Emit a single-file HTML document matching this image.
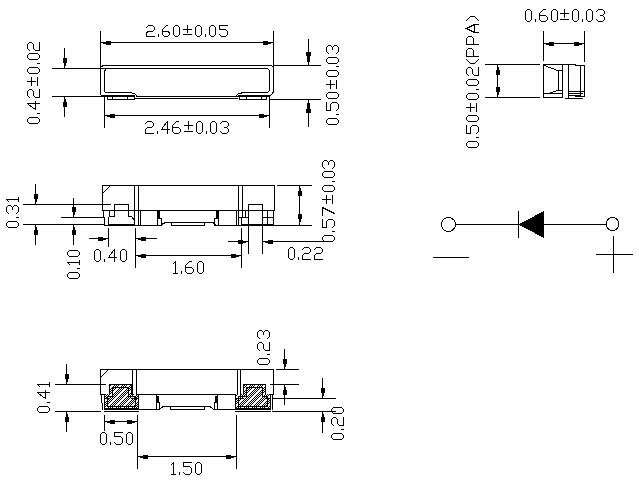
<!DOCTYPE html><html><head><meta charset="utf-8"><style>html,body{margin:0;padding:0;background:#fff;font-family:"Liberation Sans",sans-serif;width:639px;height:487px;overflow:hidden}svg{display:block}</style></head><body><svg width="639" height="487" viewBox="0 0 639 487" shape-rendering="crispEdges"><defs><pattern id="ht" width="8" height="8" patternUnits="userSpaceOnUse"><rect width="8" height="8" fill="#fff"/><path d="M3,0h1v1h-1zM5,0h1v1h-1zM7,0h1v1h-1zM2,1h1v1h-1zM4,1h1v1h-1zM6,1h1v1h-1zM1,2h1v1h-1zM3,2h1v1h-1zM5,2h1v1h-1zM0,3h1v1h-1zM2,3h1v1h-1zM4,3h1v1h-1zM1,4h1v1h-1zM3,4h1v1h-1zM7,4h1v1h-1zM0,5h1v1h-1zM2,5h1v1h-1zM6,5h1v1h-1zM1,6h1v1h-1zM5,6h1v1h-1zM7,6h1v1h-1zM0,7h1v1h-1zM4,7h1v1h-1zM6,7h1v1h-1z" fill="#000"/></pattern></defs><rect width="639" height="487" fill="#fff"/><path fill="url(#ht)" d="M110,385H131V394H138V408H105V394H110Z"/><path fill="url(#ht)" d="M244,385H265V394H270V408H236V394H244Z"/><g fill="#000"><rect x="100" y="31" width="1" height="64"/><rect x="103" y="65" width="169" height="1"/><rect x="273" y="31" width="1" height="61"/><rect x="273" y="65" width="48" height="1"/><rect x="52" y="68" width="49" height="1"/><rect x="101" y="68" width="167" height="1"/><rect x="104" y="71" width="1" height="21"/><rect x="105" y="92" width="27" height="1"/><rect x="269" y="70" width="1" height="21"/><rect x="242" y="92" width="26" height="1"/><rect x="52" y="96" width="83" height="1"/><rect x="103" y="95" width="32" height="1"/><rect x="136" y="96" width="102" height="1"/><rect x="135" y="98" width="103" height="1"/><rect x="238" y="96" width="32" height="1"/><rect x="238" y="95" width="32" height="1"/><rect x="107" y="99" width="28" height="1"/><rect x="107" y="96" width="1" height="4"/><rect x="112" y="96" width="1" height="4"/><rect x="127" y="96" width="1" height="4"/><rect x="134" y="96" width="1" height="4"/><rect x="239" y="99" width="28" height="1"/><rect x="239" y="96" width="1" height="4"/><rect x="246" y="96" width="1" height="4"/><rect x="261" y="96" width="1" height="4"/><rect x="266" y="96" width="1" height="4"/><rect x="104" y="96" width="1" height="32"/><rect x="269" y="96" width="1" height="32"/><rect x="269" y="99" width="52" height="1"/><rect x="100" y="42" width="174" height="1"/><rect x="103" y="42" width="1" height="2"/><rect x="104" y="42" width="1" height="2"/><rect x="105" y="42" width="1" height="2"/><rect x="106" y="41" width="1" height="4"/><rect x="107" y="41" width="1" height="4"/><rect x="108" y="41" width="1" height="4"/><rect x="109" y="41" width="1" height="4"/><rect x="110" y="41" width="1" height="4"/><rect x="270" y="42" width="1" height="2"/><rect x="269" y="42" width="1" height="2"/><rect x="268" y="42" width="1" height="2"/><rect x="267" y="41" width="1" height="4"/><rect x="266" y="41" width="1" height="4"/><rect x="265" y="41" width="1" height="4"/><rect x="264" y="41" width="1" height="4"/><rect x="263" y="41" width="1" height="4"/><rect x="104" y="115" width="166" height="1"/><rect x="107" y="115" width="1" height="2"/><rect x="108" y="115" width="1" height="2"/><rect x="109" y="115" width="1" height="2"/><rect x="110" y="114" width="1" height="4"/><rect x="111" y="114" width="1" height="4"/><rect x="112" y="114" width="1" height="4"/><rect x="113" y="114" width="1" height="4"/><rect x="114" y="114" width="1" height="4"/><rect x="266" y="115" width="1" height="2"/><rect x="265" y="115" width="1" height="2"/><rect x="264" y="115" width="1" height="2"/><rect x="263" y="114" width="1" height="4"/><rect x="262" y="114" width="1" height="4"/><rect x="261" y="114" width="1" height="4"/><rect x="260" y="114" width="1" height="4"/><rect x="259" y="114" width="1" height="4"/><rect x="64" y="48" width="1" height="21"/><rect x="64" y="65" width="2" height="1"/><rect x="64" y="64" width="2" height="1"/><rect x="64" y="63" width="2" height="1"/><rect x="63" y="62" width="4" height="1"/><rect x="63" y="61" width="4" height="1"/><rect x="63" y="60" width="4" height="1"/><rect x="63" y="59" width="4" height="1"/><rect x="63" y="58" width="4" height="1"/><rect x="64" y="96" width="1" height="21"/><rect x="64" y="99" width="2" height="1"/><rect x="64" y="100" width="2" height="1"/><rect x="64" y="101" width="2" height="1"/><rect x="63" y="102" width="4" height="1"/><rect x="63" y="103" width="4" height="1"/><rect x="63" y="104" width="4" height="1"/><rect x="63" y="105" width="4" height="1"/><rect x="63" y="106" width="4" height="1"/><rect x="308" y="39" width="1" height="27"/><rect x="307" y="61" width="3" height="1"/><rect x="307" y="60" width="3" height="1"/><rect x="307" y="59" width="3" height="1"/><rect x="307" y="58" width="3" height="1"/><rect x="307" y="57" width="3" height="1"/><rect x="307" y="56" width="3" height="1"/><rect x="306" y="55" width="5" height="1"/><rect x="306" y="54" width="5" height="1"/><rect x="306" y="53" width="5" height="1"/><rect x="306" y="52" width="5" height="1"/><rect x="308" y="99" width="1" height="28"/><rect x="307" y="103" width="3" height="1"/><rect x="307" y="104" width="3" height="1"/><rect x="307" y="105" width="3" height="1"/><rect x="307" y="106" width="3" height="1"/><rect x="307" y="107" width="3" height="1"/><rect x="307" y="108" width="3" height="1"/><rect x="306" y="109" width="5" height="1"/><rect x="306" y="110" width="5" height="1"/><rect x="306" y="111" width="5" height="1"/><rect x="306" y="112" width="5" height="1"/><rect x="485" y="64" width="55" height="1"/><rect x="485" y="97" width="55" height="1"/><rect x="497" y="64" width="1" height="34"/><rect x="497" y="67" width="2" height="1"/><rect x="497" y="68" width="2" height="1"/><rect x="497" y="69" width="2" height="1"/><rect x="496" y="70" width="4" height="1"/><rect x="496" y="71" width="4" height="1"/><rect x="496" y="72" width="4" height="1"/><rect x="496" y="73" width="4" height="1"/><rect x="496" y="74" width="4" height="1"/><rect x="497" y="94" width="2" height="1"/><rect x="497" y="93" width="2" height="1"/><rect x="497" y="92" width="2" height="1"/><rect x="496" y="91" width="4" height="1"/><rect x="496" y="90" width="4" height="1"/><rect x="496" y="89" width="4" height="1"/><rect x="496" y="88" width="4" height="1"/><rect x="496" y="87" width="4" height="1"/><rect x="543" y="31" width="1" height="30"/><rect x="584" y="31" width="1" height="31"/><rect x="543" y="43" width="42" height="1"/><rect x="546" y="43" width="1" height="2"/><rect x="547" y="43" width="1" height="2"/><rect x="548" y="43" width="1" height="2"/><rect x="549" y="42" width="1" height="4"/><rect x="550" y="42" width="1" height="4"/><rect x="551" y="42" width="1" height="4"/><rect x="552" y="42" width="1" height="4"/><rect x="553" y="42" width="1" height="4"/><rect x="581" y="43" width="1" height="2"/><rect x="580" y="43" width="1" height="2"/><rect x="579" y="43" width="1" height="2"/><rect x="578" y="42" width="1" height="4"/><rect x="577" y="42" width="1" height="4"/><rect x="576" y="42" width="1" height="4"/><rect x="575" y="42" width="1" height="4"/><rect x="574" y="42" width="1" height="4"/><rect x="543" y="64" width="33" height="1"/><rect x="575" y="65" width="10" height="1"/><rect x="543" y="64" width="1" height="34"/><rect x="584" y="65" width="1" height="32"/><rect x="562" y="64" width="1" height="34"/><rect x="568" y="64" width="1" height="35"/><rect x="580" y="65" width="1" height="32"/><rect x="558" y="70" width="1" height="21"/><rect x="558" y="70" width="5" height="1"/><rect x="558" y="90" width="5" height="1"/><rect x="543" y="93" width="20" height="1"/><rect x="543" y="97" width="20" height="1"/><rect x="565" y="98" width="18" height="1"/><rect x="568" y="91" width="17" height="1"/><rect x="568" y="93" width="15" height="1"/><rect x="568" y="95" width="13" height="1"/><rect x="575" y="96" width="10" height="1"/><rect x="456" y="224" width="63" height="1"/><rect x="543" y="224" width="64" height="1"/><rect x="518" y="211" width="1" height="27"/><rect x="433" y="257" width="36" height="1"/><rect x="613" y="236" width="1" height="37"/><rect x="596" y="254" width="37" height="1"/><rect x="102" y="185" width="173" height="1"/><rect x="102" y="185" width="1" height="26"/><rect x="103" y="211" width="1" height="7"/><rect x="104" y="218" width="1" height="8"/><rect x="134" y="185" width="1" height="41"/><rect x="138" y="185" width="1" height="41"/><rect x="102" y="210" width="173" height="1"/><rect x="114" y="204" width="1" height="13"/><rect x="114" y="204" width="15" height="1"/><rect x="128" y="204" width="1" height="13"/><rect x="110" y="216" width="5" height="1"/><rect x="109" y="211" width="1" height="6"/><rect x="128" y="216" width="4" height="1"/><rect x="23" y="204" width="88" height="1"/><rect x="61" y="217" width="44" height="1"/><rect x="23" y="224" width="82" height="1"/><rect x="104" y="225" width="58" height="1"/><rect x="214" y="225" width="61" height="1"/><rect x="108" y="224" width="27" height="1"/><rect x="108" y="217" width="1" height="9"/><rect x="140" y="210" width="1" height="16"/><rect x="157" y="210" width="1" height="16"/><rect x="158" y="211" width="2" height="7"/><rect x="161" y="218" width="1" height="7"/><rect x="158" y="218" width="4" height="1"/><rect x="218" y="210" width="1" height="16"/><rect x="216" y="211" width="2" height="7"/><rect x="214" y="218" width="1" height="7"/><rect x="214" y="218" width="4" height="1"/><rect x="171" y="225" width="34" height="1"/><rect x="171" y="222" width="1" height="4"/><rect x="204" y="222" width="1" height="4"/><rect x="238" y="185" width="1" height="26"/><rect x="242" y="185" width="1" height="33"/><rect x="236" y="210" width="1" height="16"/><rect x="238" y="211" width="1" height="15"/><rect x="241" y="217" width="1" height="9"/><rect x="239" y="217" width="10" height="1"/><rect x="245" y="210" width="1" height="7"/><rect x="248" y="204" width="15" height="1"/><rect x="248" y="204" width="1" height="22"/><rect x="262" y="204" width="1" height="22"/><rect x="262" y="217" width="12" height="1"/><rect x="267" y="211" width="1" height="15"/><rect x="274" y="185" width="1" height="25"/><rect x="273" y="210" width="1" height="16"/><rect x="241" y="224" width="33" height="1"/><rect x="277" y="185" width="35" height="1"/><rect x="273" y="225" width="39" height="1"/><rect x="35" y="184" width="1" height="21"/><rect x="35" y="201" width="2" height="1"/><rect x="35" y="200" width="2" height="1"/><rect x="35" y="199" width="2" height="1"/><rect x="34" y="198" width="4" height="1"/><rect x="34" y="197" width="4" height="1"/><rect x="34" y="196" width="4" height="1"/><rect x="34" y="195" width="4" height="1"/><rect x="34" y="194" width="4" height="1"/><rect x="35" y="224" width="1" height="21"/><rect x="35" y="227" width="2" height="1"/><rect x="35" y="228" width="2" height="1"/><rect x="35" y="229" width="2" height="1"/><rect x="34" y="230" width="4" height="1"/><rect x="34" y="231" width="4" height="1"/><rect x="34" y="232" width="4" height="1"/><rect x="34" y="233" width="4" height="1"/><rect x="34" y="234" width="4" height="1"/><rect x="73" y="198" width="1" height="20"/><rect x="73" y="214" width="2" height="1"/><rect x="73" y="213" width="2" height="1"/><rect x="73" y="212" width="2" height="1"/><rect x="72" y="211" width="4" height="1"/><rect x="72" y="210" width="4" height="1"/><rect x="72" y="209" width="4" height="1"/><rect x="72" y="208" width="4" height="1"/><rect x="72" y="207" width="4" height="1"/><rect x="73" y="224" width="1" height="21"/><rect x="73" y="227" width="2" height="1"/><rect x="73" y="228" width="2" height="1"/><rect x="73" y="229" width="2" height="1"/><rect x="72" y="230" width="4" height="1"/><rect x="72" y="231" width="4" height="1"/><rect x="72" y="232" width="4" height="1"/><rect x="72" y="233" width="4" height="1"/><rect x="72" y="234" width="4" height="1"/><rect x="108" y="228" width="1" height="19"/><rect x="135" y="228" width="1" height="40"/><rect x="89" y="238" width="20" height="1"/><rect x="105" y="238" width="1" height="2"/><rect x="104" y="238" width="1" height="2"/><rect x="103" y="238" width="1" height="2"/><rect x="102" y="237" width="1" height="4"/><rect x="101" y="237" width="1" height="4"/><rect x="100" y="237" width="1" height="4"/><rect x="99" y="237" width="1" height="4"/><rect x="98" y="237" width="1" height="4"/><rect x="135" y="238" width="22" height="1"/><rect x="138" y="238" width="1" height="2"/><rect x="139" y="238" width="1" height="2"/><rect x="140" y="238" width="1" height="2"/><rect x="141" y="237" width="1" height="4"/><rect x="142" y="237" width="1" height="4"/><rect x="143" y="237" width="1" height="4"/><rect x="144" y="237" width="1" height="4"/><rect x="145" y="237" width="1" height="4"/><rect x="135" y="255" width="107" height="1"/><rect x="138" y="255" width="1" height="2"/><rect x="139" y="255" width="1" height="2"/><rect x="140" y="255" width="1" height="2"/><rect x="141" y="254" width="1" height="4"/><rect x="142" y="254" width="1" height="4"/><rect x="143" y="254" width="1" height="4"/><rect x="144" y="254" width="1" height="4"/><rect x="145" y="254" width="1" height="4"/><rect x="238" y="255" width="1" height="2"/><rect x="237" y="255" width="1" height="2"/><rect x="236" y="255" width="1" height="2"/><rect x="235" y="254" width="1" height="4"/><rect x="234" y="254" width="1" height="4"/><rect x="233" y="254" width="1" height="4"/><rect x="232" y="254" width="1" height="4"/><rect x="231" y="254" width="1" height="4"/><rect x="241" y="228" width="1" height="40"/><rect x="248" y="225" width="1" height="29"/><rect x="262" y="225" width="1" height="29"/><rect x="228" y="241" width="21" height="1"/><rect x="245" y="241" width="1" height="2"/><rect x="244" y="241" width="1" height="2"/><rect x="243" y="241" width="1" height="2"/><rect x="242" y="240" width="1" height="4"/><rect x="241" y="240" width="1" height="4"/><rect x="240" y="240" width="1" height="4"/><rect x="239" y="240" width="1" height="4"/><rect x="238" y="240" width="1" height="4"/><rect x="262" y="241" width="63" height="1"/><rect x="265" y="241" width="1" height="2"/><rect x="266" y="241" width="1" height="2"/><rect x="267" y="241" width="1" height="2"/><rect x="268" y="240" width="1" height="4"/><rect x="269" y="240" width="1" height="4"/><rect x="270" y="240" width="1" height="4"/><rect x="271" y="240" width="1" height="4"/><rect x="272" y="240" width="1" height="4"/><rect x="299" y="185" width="1" height="40"/><rect x="299" y="188" width="2" height="1"/><rect x="299" y="189" width="2" height="1"/><rect x="299" y="190" width="2" height="1"/><rect x="298" y="191" width="4" height="1"/><rect x="298" y="192" width="4" height="1"/><rect x="298" y="193" width="4" height="1"/><rect x="298" y="194" width="4" height="1"/><rect x="298" y="195" width="4" height="1"/><rect x="299" y="221" width="2" height="1"/><rect x="299" y="220" width="2" height="1"/><rect x="299" y="219" width="2" height="1"/><rect x="298" y="218" width="4" height="1"/><rect x="298" y="217" width="4" height="1"/><rect x="298" y="216" width="4" height="1"/><rect x="298" y="215" width="4" height="1"/><rect x="298" y="214" width="4" height="1"/><rect x="100" y="369" width="174" height="1"/><rect x="100" y="369" width="1" height="26"/><rect x="101" y="395" width="1" height="8"/><rect x="102" y="403" width="1" height="7"/><rect x="132" y="369" width="1" height="26"/><rect x="136" y="369" width="1" height="26"/><rect x="100" y="394" width="5" height="1"/><rect x="138" y="394" width="98" height="1"/><rect x="270" y="394" width="4" height="1"/><rect x="55" y="384" width="51" height="1"/><rect x="55" y="411" width="46" height="1"/><rect x="109" y="384" width="23" height="1"/><rect x="109" y="384" width="1" height="11"/><rect x="131" y="384" width="1" height="11"/><rect x="104" y="394" width="1" height="16"/><rect x="138" y="394" width="1" height="16"/><rect x="104" y="408" width="35" height="1"/><rect x="104" y="409" width="35" height="1"/><rect x="104" y="411" width="35" height="1"/><rect x="104" y="398" width="6" height="1"/><rect x="131" y="398" width="8" height="1"/><rect x="243" y="384" width="23" height="1"/><rect x="243" y="384" width="1" height="11"/><rect x="265" y="384" width="1" height="11"/><rect x="235" y="394" width="1" height="16"/><rect x="270" y="394" width="1" height="16"/><rect x="235" y="408" width="36" height="1"/><rect x="235" y="409" width="36" height="1"/><rect x="235" y="411" width="36" height="1"/><rect x="235" y="398" width="9" height="1"/><rect x="265" y="398" width="6" height="1"/><rect x="156" y="394" width="1" height="16"/><rect x="157" y="396" width="2" height="6"/><rect x="159" y="402" width="1" height="7"/><rect x="156" y="402" width="4" height="1"/><rect x="217" y="394" width="1" height="16"/><rect x="215" y="396" width="2" height="6"/><rect x="214" y="402" width="1" height="7"/><rect x="214" y="402" width="4" height="1"/><rect x="170" y="409" width="35" height="1"/><rect x="170" y="406" width="1" height="4"/><rect x="204" y="406" width="1" height="4"/><rect x="138" y="409" width="22" height="1"/><rect x="213" y="409" width="24" height="1"/><rect x="237" y="369" width="1" height="26"/><rect x="240" y="369" width="1" height="26"/><rect x="273" y="369" width="1" height="26"/><rect x="272" y="394" width="1" height="16"/><rect x="276" y="369" width="23" height="1"/><rect x="270" y="384" width="29" height="1"/><rect x="272" y="398" width="64" height="1"/><rect x="272" y="411" width="64" height="1"/><rect x="284" y="349" width="1" height="21"/><rect x="284" y="366" width="2" height="1"/><rect x="284" y="365" width="2" height="1"/><rect x="284" y="364" width="2" height="1"/><rect x="283" y="363" width="4" height="1"/><rect x="283" y="362" width="4" height="1"/><rect x="283" y="361" width="4" height="1"/><rect x="283" y="360" width="4" height="1"/><rect x="283" y="359" width="4" height="1"/><rect x="284" y="384" width="1" height="21"/><rect x="284" y="387" width="2" height="1"/><rect x="284" y="388" width="2" height="1"/><rect x="284" y="389" width="2" height="1"/><rect x="283" y="390" width="4" height="1"/><rect x="283" y="391" width="4" height="1"/><rect x="283" y="392" width="4" height="1"/><rect x="283" y="393" width="4" height="1"/><rect x="283" y="394" width="4" height="1"/><rect x="322" y="378" width="1" height="21"/><rect x="322" y="395" width="2" height="1"/><rect x="322" y="394" width="2" height="1"/><rect x="322" y="393" width="2" height="1"/><rect x="321" y="392" width="4" height="1"/><rect x="321" y="391" width="4" height="1"/><rect x="321" y="390" width="4" height="1"/><rect x="321" y="389" width="4" height="1"/><rect x="321" y="388" width="4" height="1"/><rect x="322" y="411" width="1" height="22"/><rect x="322" y="414" width="2" height="1"/><rect x="322" y="415" width="2" height="1"/><rect x="322" y="416" width="2" height="1"/><rect x="321" y="417" width="4" height="1"/><rect x="321" y="418" width="4" height="1"/><rect x="321" y="419" width="4" height="1"/><rect x="321" y="420" width="4" height="1"/><rect x="321" y="421" width="4" height="1"/><rect x="66" y="364" width="1" height="21"/><rect x="66" y="381" width="2" height="1"/><rect x="66" y="380" width="2" height="1"/><rect x="66" y="379" width="2" height="1"/><rect x="65" y="378" width="4" height="1"/><rect x="65" y="377" width="4" height="1"/><rect x="65" y="376" width="4" height="1"/><rect x="65" y="375" width="4" height="1"/><rect x="65" y="374" width="4" height="1"/><rect x="66" y="411" width="1" height="21"/><rect x="66" y="414" width="2" height="1"/><rect x="66" y="415" width="2" height="1"/><rect x="66" y="416" width="2" height="1"/><rect x="65" y="417" width="4" height="1"/><rect x="65" y="418" width="4" height="1"/><rect x="65" y="419" width="4" height="1"/><rect x="65" y="420" width="4" height="1"/><rect x="65" y="421" width="4" height="1"/><rect x="104" y="415" width="1" height="16"/><rect x="137" y="415" width="1" height="54"/><rect x="104" y="421" width="34" height="1"/><rect x="107" y="421" width="1" height="2"/><rect x="108" y="421" width="1" height="2"/><rect x="109" y="421" width="1" height="2"/><rect x="110" y="420" width="1" height="4"/><rect x="111" y="420" width="1" height="4"/><rect x="112" y="420" width="1" height="4"/><rect x="113" y="420" width="1" height="4"/><rect x="114" y="420" width="1" height="4"/><rect x="134" y="421" width="1" height="2"/><rect x="133" y="421" width="1" height="2"/><rect x="132" y="421" width="1" height="2"/><rect x="131" y="420" width="1" height="4"/><rect x="130" y="420" width="1" height="4"/><rect x="129" y="420" width="1" height="4"/><rect x="128" y="420" width="1" height="4"/><rect x="127" y="420" width="1" height="4"/><rect x="137" y="456" width="100" height="1"/><rect x="140" y="456" width="1" height="2"/><rect x="141" y="456" width="1" height="2"/><rect x="142" y="456" width="1" height="2"/><rect x="143" y="455" width="1" height="4"/><rect x="144" y="455" width="1" height="4"/><rect x="145" y="455" width="1" height="4"/><rect x="146" y="455" width="1" height="4"/><rect x="147" y="455" width="1" height="4"/><rect x="233" y="456" width="1" height="2"/><rect x="232" y="456" width="1" height="2"/><rect x="231" y="456" width="1" height="2"/><rect x="230" y="455" width="1" height="4"/><rect x="229" y="455" width="1" height="4"/><rect x="228" y="455" width="1" height="4"/><rect x="227" y="455" width="1" height="4"/><rect x="226" y="455" width="1" height="4"/><rect x="236" y="415" width="1" height="54"/></g><path fill="none" stroke="#000" stroke-width="1" stroke-linecap="square" d="M100.5,94.5L101.5,95.5L103.5,96.5M100.5,67.5L101.5,66.5L103.5,65.5M271.5,65.5L273.5,67.5M273.5,91.5L272.5,93.5L270.5,95.5M104.5,71.5L105.5,69.5L106.5,68.5M104.5,91.5L105.5,92.5M131.5,92.5L132.5,93.5L134.5,93.5L136.5,95.5M267.5,68.5L269.5,70.5M269.5,90.5L267.5,92.5M242.5,92.5L240.5,93.5L238.5,93.5L236.5,95.5M544.5,65.5L557.5,70.5M548.5,93.5L557.5,90.5M103.5,192.5L109.5,186.5M131.5,216.5L134.5,220.5M161.5,224.5L163.5,223.5L165.5,222.5L212.5,222.5L214.5,223.5L215.5,224.5M101.5,376.5L107.5,370.5M112.5,387.5L128.5,387.5L128.5,396.5L135.5,396.5L135.5,406.5L107.5,406.5L107.5,396.5L112.5,396.5L112.5,387.5M246.5,387.5L262.5,387.5L262.5,396.5L267.5,396.5L267.5,406.5L238.5,406.5L238.5,396.5L246.5,396.5L246.5,387.5M159.5,409.5L161.5,407.5L163.5,406.5L209.5,406.5L211.5,407.5L213.5,409.5"/><g fill="#000"><polygon points="518.5,224.5 544,211 544,238"/></g><g fill="none" stroke="#000" stroke-width="1" stroke-linecap="square"><path transform="translate(146,25)" d="M0.5,2.5L2.5,0.5L6.5,0.5L8.5,2.5L8.5,4.5L6.5,6.5L2.5,6.5L0.5,7.5L0.5,11.5L8.5,11.5M12.5,9.5L12.5,11.5M21.5,0.5L20.5,0.5L16.5,4.5L16.5,9.5L18.5,11.5L21.5,11.5L23.5,9.5L23.5,7.5L21.5,6.5L17.5,6.5L16.5,6.5M29.5,0.5L31.5,0.5L33.5,2.5L33.5,9.5L31.5,11.5L29.5,11.5L27.5,9.5L27.5,2.5ZM41.5,0.5L41.5,7.5M37.5,4.5L45.5,4.5M37.5,9.5L45.5,9.5M51.5,0.5L53.5,0.5L55.5,2.5L55.5,9.5L53.5,11.5L51.5,11.5L49.5,9.5L49.5,2.5ZM59.5,9.5L59.5,11.5M65.5,0.5L67.5,0.5L69.5,2.5L69.5,9.5L67.5,11.5L65.5,11.5L63.5,9.5L63.5,2.5ZM81.5,0.5L73.5,0.5L73.5,4.5L79.5,4.5L81.5,6.5L81.5,9.5L79.5,11.5L75.5,11.5L73.5,9.5"/><path transform="translate(145,121)" d="M0.5,2.5L2.5,0.5L6.5,0.5L8.5,2.5L8.5,4.5L6.5,6.5L2.5,6.5L0.5,8.5L0.5,12.5L8.5,12.5M12.5,10.5L12.5,12.5M22.5,12.5L22.5,0.5L17.5,6.5L17.5,8.5M16.5,8.5L24.5,8.5M33.5,0.5L31.5,0.5L27.5,4.5L27.5,10.5L29.5,12.5L33.5,12.5L35.5,10.5L35.5,8.5L33.5,6.5L28.5,6.5L27.5,7.5M43.5,0.5L43.5,8.5M39.5,4.5L47.5,4.5M39.5,10.5L47.5,10.5M53.5,0.5L55.5,0.5L57.5,2.5L57.5,10.5L55.5,12.5L53.5,12.5L51.5,10.5L51.5,2.5ZM61.5,10.5L61.5,12.5M67.5,0.5L69.5,0.5L71.5,2.5L71.5,10.5L69.5,12.5L67.5,12.5L65.5,10.5L65.5,2.5ZM75.5,2.5L77.5,0.5L81.5,0.5L83.5,2.5L83.5,4.5L81.5,6.5L79.5,6.5M81.5,6.5L83.5,8.5L83.5,10.5L81.5,12.5L77.5,12.5L75.5,10.5"/><path transform="translate(27,124) rotate(-90)" d="M2.5,0.5L4.5,0.5L6.5,2.5L6.5,10.5L4.5,12.5L2.5,12.5L0.5,10.5L0.5,2.5ZM10.5,10.5L10.5,12.5M20.5,12.5L20.5,0.5L15.5,6.5L15.5,8.5M14.5,8.5L22.5,8.5M26.5,2.5L28.5,0.5L32.5,0.5L34.5,2.5L34.5,4.5L32.5,6.5L28.5,6.5L26.5,8.5L26.5,12.5L34.5,12.5M42.5,0.5L42.5,8.5M38.5,4.5L46.5,4.5M38.5,10.5L46.5,10.5M52.5,0.5L54.5,0.5L56.5,2.5L56.5,10.5L54.5,12.5L52.5,12.5L50.5,10.5L50.5,2.5ZM60.5,10.5L60.5,12.5M66.5,0.5L68.5,0.5L70.5,2.5L70.5,10.5L68.5,12.5L66.5,12.5L64.5,10.5L64.5,2.5ZM73.5,2.5L75.5,0.5L79.5,0.5L81.5,2.5L81.5,4.5L79.5,6.5L75.5,6.5L73.5,8.5L73.5,12.5L81.5,12.5"/><path transform="translate(326,125) rotate(-90)" d="M2.5,0.5L4.5,0.5L6.5,2.5L6.5,10.5L4.5,12.5L2.5,12.5L0.5,10.5L0.5,2.5ZM10.5,10.5L10.5,12.5M22.5,0.5L14.5,0.5L14.5,4.5L20.5,4.5L22.5,6.5L22.5,10.5L20.5,12.5L16.5,12.5L14.5,10.5M28.5,0.5L30.5,0.5L32.5,2.5L32.5,10.5L30.5,12.5L28.5,12.5L26.5,10.5L26.5,2.5ZM40.5,0.5L40.5,8.5M36.5,4.5L44.5,4.5M36.5,10.5L44.5,10.5M50.5,0.5L52.5,0.5L54.5,2.5L54.5,10.5L52.5,12.5L50.5,12.5L48.5,10.5L48.5,2.5ZM58.5,10.5L58.5,12.5M63.5,0.5L65.5,0.5L67.5,2.5L67.5,10.5L65.5,12.5L63.5,12.5L61.5,10.5L61.5,2.5ZM71.5,2.5L73.5,0.5L77.5,0.5L79.5,2.5L79.5,4.5L77.5,6.5L75.5,6.5M77.5,6.5L79.5,8.5L79.5,10.5L77.5,12.5L73.5,12.5L71.5,10.5"/><path transform="translate(525,9)" d="M2.5,0.5L4.5,0.5L6.5,2.5L6.5,10.5L4.5,12.5L2.5,12.5L0.5,10.5L0.5,2.5ZM10.5,10.5L10.5,12.5M20.5,0.5L18.5,0.5L14.5,4.5L14.5,10.5L16.5,12.5L20.5,12.5L22.5,10.5L22.5,8.5L20.5,6.5L15.5,6.5L14.5,7.5M28.5,0.5L30.5,0.5L32.5,2.5L32.5,10.5L30.5,12.5L28.5,12.5L26.5,10.5L26.5,2.5ZM39.5,0.5L39.5,8.5M35.5,4.5L43.5,4.5M35.5,10.5L43.5,10.5M49.5,0.5L51.5,0.5L53.5,2.5L53.5,10.5L51.5,12.5L49.5,12.5L47.5,10.5L47.5,2.5ZM57.5,10.5L57.5,12.5M63.5,0.5L65.5,0.5L67.5,2.5L67.5,10.5L65.5,12.5L63.5,12.5L61.5,10.5L61.5,2.5ZM71.5,2.5L73.5,0.5L77.5,0.5L79.5,2.5L79.5,4.5L77.5,6.5L75.5,6.5M77.5,6.5L79.5,8.5L79.5,10.5L77.5,12.5L73.5,12.5L71.5,10.5"/><path transform="translate(466,148) rotate(-90)" d="M2.5,0.5L4.5,0.5L6.5,2.5L6.5,10.5L4.5,12.5L2.5,12.5L0.5,10.5L0.5,2.5ZM10.5,10.5L10.5,12.5M22.5,0.5L14.5,0.5L14.5,4.5L20.5,4.5L22.5,6.5L22.5,10.5L20.5,12.5L16.5,12.5L14.5,10.5M28.5,0.5L30.5,0.5L32.5,2.5L32.5,10.5L30.5,12.5L28.5,12.5L26.5,10.5L26.5,2.5ZM40.5,0.5L40.5,8.5M36.5,4.5L44.5,4.5M36.5,10.5L44.5,10.5M50.5,0.5L52.5,0.5L54.5,2.5L54.5,10.5L52.5,12.5L50.5,12.5L48.5,10.5L48.5,2.5ZM58.5,10.5L58.5,12.5M64.5,0.5L66.5,0.5L68.5,2.5L68.5,10.5L66.5,12.5L64.5,12.5L62.5,10.5L62.5,2.5ZM72.5,2.5L74.5,0.5L78.5,0.5L80.5,2.5L80.5,4.5L78.5,6.5L74.5,6.5L72.5,8.5L72.5,12.5L80.5,12.5M88.5,0.5L84.5,4.5L84.5,8.5L88.5,12.5M91.5,12.5L91.5,0.5L97.5,0.5L99.5,2.5L99.5,5.5L97.5,7.5L91.5,7.5M103.5,12.5L103.5,0.5L109.5,0.5L111.5,2.5L111.5,5.5L109.5,7.5L103.5,7.5M115.5,12.5L115.5,8.5L119.5,0.5L123.5,8.5L123.5,12.5M115.5,8.5L123.5,8.5M127.5,0.5L131.5,4.5L131.5,8.5L127.5,12.5"/><path transform="translate(6,228) rotate(-90)" d="M2.5,0.5L4.5,0.5L6.5,2.5L6.5,10.5L4.5,12.5L2.5,12.5L0.5,10.5L0.5,2.5ZM10.5,10.5L10.5,12.5M14.5,2.5L16.5,0.5L20.5,0.5L22.5,2.5L22.5,4.5L20.5,6.5L18.5,6.5M20.5,6.5L22.5,8.5L22.5,10.5L20.5,12.5L16.5,12.5L14.5,10.5M26.5,2.5L28.5,0.5L28.5,12.5M26.5,12.5L30.5,12.5"/><path transform="translate(67,279) rotate(-90)" d="M2.5,0.5L4.5,0.5L6.5,2.5L6.5,10.5L4.5,12.5L2.5,12.5L0.5,10.5L0.5,2.5ZM10.5,10.5L10.5,12.5M14.5,2.5L16.5,0.5L16.5,12.5M14.5,12.5L18.5,12.5M24.5,0.5L26.5,0.5L28.5,2.5L28.5,10.5L26.5,12.5L24.5,12.5L22.5,10.5L22.5,2.5Z"/><path transform="translate(94,249)" d="M2.5,0.5L4.5,0.5L6.5,2.5L6.5,10.5L4.5,12.5L2.5,12.5L0.5,10.5L0.5,2.5ZM10.5,10.5L10.5,12.5M20.5,12.5L20.5,0.5L15.5,6.5L15.5,8.5M14.5,8.5L22.5,8.5M28.5,0.5L30.5,0.5L32.5,2.5L32.5,10.5L30.5,12.5L28.5,12.5L26.5,10.5L26.5,2.5Z"/><path transform="translate(173,261)" d="M0.5,2.5L2.5,0.5L2.5,12.5M0.5,12.5L4.5,12.5M8.5,10.5L8.5,12.5M18.5,0.5L16.5,0.5L12.5,4.5L12.5,10.5L14.5,12.5L18.5,12.5L20.5,10.5L20.5,8.5L18.5,6.5L13.5,6.5L12.5,7.5M26.5,0.5L28.5,0.5L30.5,2.5L30.5,10.5L28.5,12.5L26.5,12.5L24.5,10.5L24.5,2.5Z"/><path transform="translate(288,247)" d="M2.5,0.5L4.5,0.5L6.5,2.5L6.5,10.5L4.5,12.5L2.5,12.5L0.5,10.5L0.5,2.5ZM10.5,10.5L10.5,12.5M14.5,2.5L16.5,0.5L20.5,0.5L22.5,2.5L22.5,4.5L20.5,6.5L16.5,6.5L14.5,8.5L14.5,12.5L22.5,12.5M26.5,2.5L28.5,0.5L32.5,0.5L34.5,2.5L34.5,4.5L32.5,6.5L28.5,6.5L26.5,8.5L26.5,12.5L34.5,12.5"/><path transform="translate(322,242) rotate(-90)" d="M2.5,0.5L4.5,0.5L6.5,2.5L6.5,10.5L4.5,12.5L2.5,12.5L0.5,10.5L0.5,2.5ZM10.5,10.5L10.5,12.5M22.5,0.5L14.5,0.5L14.5,4.5L20.5,4.5L22.5,6.5L22.5,10.5L20.5,12.5L16.5,12.5L14.5,10.5M26.5,0.5L34.5,0.5L28.5,12.5M42.5,0.5L42.5,8.5M38.5,4.5L46.5,4.5M38.5,10.5L46.5,10.5M52.5,0.5L54.5,0.5L56.5,2.5L56.5,10.5L54.5,12.5L52.5,12.5L50.5,10.5L50.5,2.5ZM60.5,10.5L60.5,12.5M66.5,0.5L68.5,0.5L70.5,2.5L70.5,10.5L68.5,12.5L66.5,12.5L64.5,10.5L64.5,2.5ZM73.5,2.5L75.5,0.5L79.5,0.5L81.5,2.5L81.5,4.5L79.5,6.5L77.5,6.5M79.5,6.5L81.5,8.5L81.5,10.5L79.5,12.5L75.5,12.5L73.5,10.5"/><path transform="translate(257,365) rotate(-90)" d="M2.5,0.5L4.5,0.5L6.5,2.5L6.5,10.5L4.5,12.5L2.5,12.5L0.5,10.5L0.5,2.5ZM10.5,10.5L10.5,12.5M14.5,2.5L16.5,0.5L20.5,0.5L22.5,2.5L22.5,4.5L20.5,6.5L16.5,6.5L14.5,8.5L14.5,12.5L22.5,12.5M26.5,2.5L28.5,0.5L32.5,0.5L34.5,2.5L34.5,4.5L32.5,6.5L30.5,6.5M32.5,6.5L34.5,8.5L34.5,10.5L32.5,12.5L28.5,12.5L26.5,10.5"/><path transform="translate(37,413) rotate(-90)" d="M2.5,0.5L4.5,0.5L6.5,2.5L6.5,10.5L4.5,12.5L2.5,12.5L0.5,10.5L0.5,2.5ZM10.5,10.5L10.5,12.5M20.5,12.5L20.5,0.5L15.5,6.5L15.5,8.5M14.5,8.5L22.5,8.5M26.5,2.5L28.5,0.5L28.5,12.5M26.5,12.5L30.5,12.5"/><path transform="translate(100,432)" d="M2.5,0.5L4.5,0.5L6.5,2.5L6.5,10.5L4.5,12.5L2.5,12.5L0.5,10.5L0.5,2.5ZM10.5,10.5L10.5,12.5M22.5,0.5L14.5,0.5L14.5,4.5L20.5,4.5L22.5,6.5L22.5,10.5L20.5,12.5L16.5,12.5L14.5,10.5M28.5,0.5L30.5,0.5L32.5,2.5L32.5,10.5L30.5,12.5L28.5,12.5L26.5,10.5L26.5,2.5Z"/><path transform="translate(171,462)" d="M0.5,2.5L2.5,0.5L2.5,12.5M0.5,12.5L4.5,12.5M8.5,10.5L8.5,12.5M20.5,0.5L12.5,0.5L12.5,4.5L18.5,4.5L20.5,6.5L20.5,10.5L18.5,12.5L14.5,12.5L12.5,10.5M26.5,0.5L28.5,0.5L30.5,2.5L30.5,10.5L28.5,12.5L26.5,12.5L24.5,10.5L24.5,2.5Z"/><path transform="translate(331,440) rotate(-90)" d="M2.5,0.5L4.5,0.5L6.5,2.5L6.5,10.5L4.5,12.5L2.5,12.5L0.5,10.5L0.5,2.5ZM10.5,10.5L10.5,12.5M14.5,2.5L16.5,0.5L20.5,0.5L22.5,2.5L22.5,4.5L20.5,6.5L16.5,6.5L14.5,8.5L14.5,12.5L22.5,12.5M28.5,0.5L30.5,0.5L32.5,2.5L32.5,10.5L30.5,12.5L28.5,12.5L26.5,10.5L26.5,2.5Z"/></g><circle cx="448.5" cy="224.5" r="7" fill="none" stroke="#000" stroke-width="1"/><circle cx="612.5" cy="224" r="6.5" fill="none" stroke="#000" stroke-width="1"/></svg></body></html>
